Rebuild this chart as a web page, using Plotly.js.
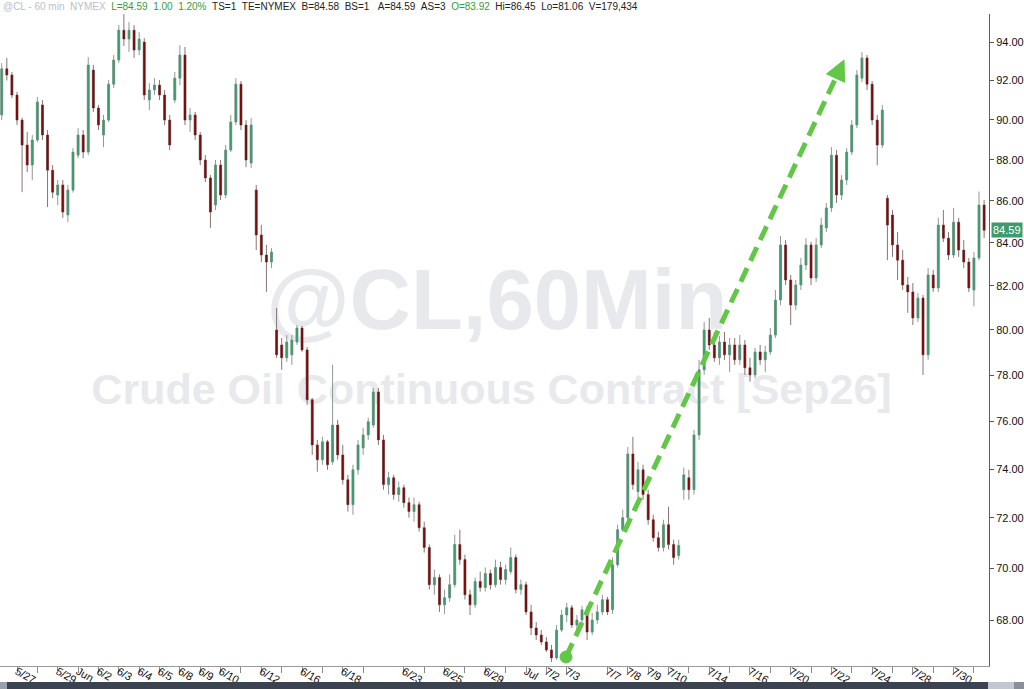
<!DOCTYPE html>
<html><head><meta charset="utf-8">
<script src="https://cdn.plot.ly/plotly-3.0.1.min.js"></script>
<style>html,body{margin:0;padding:0;background:#fff}#chart{width:1024px;height:689px}</style>
</head><body><div id="chart"></div><script>
// 60-minute bars of @CL, first bar index -3 (before 5/27 tick)
const openP=[
90.24,92.60,92.28,91.25,89.98,88.73,87.74,88.98,90.75,89.23,
87.49,86.28,86.77,85.32,86.52,88.23,89.23,88.38,92.54,90.59,
89.23,89.98,91.81,93.06,94.63,94.16,94.63,93.58,94.00,91.00,
91.51,91.76,91.25,89.98,91.00,92.12,93.32,89.98,90.24,89.23,
87.99,87.11,85.80,87.74,86.28,88.48,89.88,91.81,89.73,87.84,
86.52,84.37,83.43,83.10,80.00,79.33,78.76,78.89,79.46,80.09,
79.11,76.93,75.01,74.39,75.14,74.30,75.85,74.59,73.56,72.54,
73.97,74.88,75.43,75.85,77.27,75.22,73.36,73.64,72.95,73.23,
72.62,72.26,72.54,71.61,70.82,69.36,69.64,68.58,68.85,69.36,
70.94,70.34,68.97,68.58,69.48,69.25,69.79,69.36,70.03,69.56,
69.87,70.42,69.17,69.36,68.31,67.70,67.43,67.17,66.87,66.57,
67.62,68.19,68.47,67.81,68.00,68.39,67.54,68.00,68.31,68.78,
68.39,70.14,71.53,72.01,74.63,73.07,73.97,72.95,71.93,71.21,
70.82,71.73,70.94,70.50,73.15,73.64,73.15,75.43,78.23,80.00,
79.33,78.76,79.46,78.89,79.33,78.67,79.33,78.32,78.01,79.02,
78.67,79.02,79.77,81.35,83.90,82.27,81.12,82.04,82.96,83.90,
82.36,83.90,84.70,85.66,88.23,86.28,87.01,88.38,89.73,92.12,
93.17,91.81,89.98,88.73,86.13,85.32,83.90,83.19,82.04,81.72,
80.54,81.44,78.89,82.50,81.90,84.84,84.22,83.43,84.98,83.66,
83.10,81.81,83.29,85.80];
const highP=[
92.90,93.17,92.44,91.41,90.10,89.38,89.23,91.15,91.00,89.48,
87.74,87.01,87.01,86.77,88.58,89.58,89.48,93.21,92.80,90.75,
90.24,92.02,93.32,94.90,95.48,95.06,94.90,94.53,94.21,91.86,
92.12,92.02,91.51,90.24,92.44,93.84,93.74,90.59,90.39,89.38,
88.23,87.25,87.99,87.99,88.73,90.24,92.12,91.97,89.98,90.08,
86.77,84.85,83.90,83.75,80.99,79.64,79.77,79.77,80.22,80.18,
79.24,77.01,75.22,75.35,75.22,78.45,76.07,75.01,73.76,74.18,
75.22,75.73,76.16,77.44,77.44,75.43,73.89,73.76,73.48,73.36,
72.83,72.83,72.66,71.85,70.94,69.95,69.76,69.17,69.76,71.33,
71.53,70.54,69.17,69.64,69.87,70.03,69.95,70.34,70.26,70.14,
70.82,70.54,69.56,69.48,68.58,67.92,67.62,67.35,67.06,67.81,
68.39,68.66,68.58,68.19,68.54,68.54,68.27,68.58,68.97,68.89,
70.42,71.73,72.34,74.92,75.35,74.30,74.18,73.15,72.13,71.45,
71.93,72.46,71.13,71.13,74.06,73.97,75.64,78.67,80.36,80.54,
79.91,79.73,79.91,79.64,79.64,79.77,79.55,78.76,79.20,79.33,
79.29,80.09,81.81,84.32,84.13,82.50,82.27,83.29,84.22,84.04,
84.22,85.18,85.90,88.63,88.48,87.25,88.58,89.98,92.54,93.48,
93.32,91.97,90.24,90.75,86.28,85.56,84.51,83.66,82.41,82.13,
81.67,81.58,82.82,82.73,85.18,85.56,84.51,85.66,85.18,84.13,
83.29,83.57,86.45,86.04];
const lowP=[
89.98,92.00,91.10,89.74,86.42,87.40,87.01,88.88,88.98,85.70,
86.13,85.80,85.18,84.98,86.40,88.08,88.08,88.23,90.39,89.48,
88.63,89.88,91.61,92.91,93.79,93.48,93.17,93.32,91.00,90.49,
91.25,91.00,89.73,88.48,90.85,91.76,89.73,89.38,88.98,87.74,
86.91,84.70,85.56,86.04,86.13,88.38,89.73,89.48,87.64,87.59,
83.66,83.10,81.72,82.82,78.76,78.23,78.58,78.45,79.33,79.02,
76.71,74.59,73.89,74.18,73.97,74.18,74.39,73.36,72.26,72.13,
73.76,74.59,75.22,75.73,75.01,73.15,72.95,72.74,72.66,72.42,
72.01,71.85,71.45,70.62,69.17,68.97,68.31,68.23,68.70,69.25,
70.14,68.78,68.19,68.47,69.09,69.09,69.17,69.25,69.36,69.36,
69.76,69.02,68.97,68.19,67.43,67.24,67.06,66.79,66.42,66.50,
67.54,67.92,67.70,67.54,67.85,67.24,67.43,67.85,68.19,68.19,
68.23,70.03,71.45,71.85,73.15,72.83,72.74,71.73,71.05,70.66,
70.66,70.74,70.14,70.34,72.74,72.74,72.95,75.22,78.01,79.11,
78.58,78.45,78.67,78.14,78.45,78.45,78.01,77.71,77.88,78.45,
78.14,78.89,79.64,81.12,82.04,80.22,80.90,81.81,82.73,82.04,
82.18,83.75,84.51,85.46,85.90,86.04,86.77,88.23,89.58,91.91,
91.51,89.73,87.74,88.58,83.19,83.34,82.27,81.81,80.77,80.22,
80.36,78.01,78.67,81.72,81.72,84.04,83.19,83.29,83.34,82.82,
81.72,81.06,83.19,84.22];
const closeP=[
92.60,92.28,91.25,89.98,88.73,87.74,88.98,90.90,89.23,87.49,
86.42,86.77,85.46,86.52,88.38,89.23,88.38,92.80,90.59,89.73,
89.98,91.81,93.06,94.63,94.16,94.63,93.58,94.16,91.25,91.51,
91.76,91.25,89.98,88.73,92.12,93.32,89.98,90.24,89.23,87.99,
87.11,85.46,87.74,86.28,88.48,89.88,91.81,89.73,87.99,89.73,
84.37,83.43,83.10,83.57,78.89,78.76,79.46,79.55,80.09,79.11,
76.93,75.01,74.39,75.14,74.18,75.85,74.59,73.56,72.54,73.97,
75.01,75.43,75.99,77.27,75.22,73.36,73.64,72.95,73.23,72.62,
72.26,72.54,71.61,70.82,69.36,69.64,68.58,68.85,69.36,70.94,
70.34,68.97,68.58,69.48,69.25,69.79,69.36,70.03,69.56,69.95,
70.42,69.17,69.36,68.31,67.70,67.43,67.17,66.87,66.57,67.62,
68.19,68.47,67.81,68.00,68.39,67.54,68.00,68.31,68.78,68.31,
70.14,71.53,72.01,74.63,73.36,73.97,72.95,71.93,71.21,70.82,
71.73,70.94,70.42,70.90,73.76,73.15,75.43,78.23,80.00,79.33,
78.76,79.46,78.89,79.33,78.67,79.33,78.32,78.01,79.02,78.67,
79.02,79.77,81.35,83.90,82.27,81.12,82.04,82.96,83.90,82.36,
83.90,84.84,85.66,88.23,86.28,87.01,88.38,89.73,92.28,93.17,
91.81,89.98,88.73,90.49,84.84,83.90,83.19,82.04,81.72,80.54,
81.44,78.89,82.50,81.90,84.84,84.22,83.43,84.98,83.66,83.10,
81.90,83.29,85.80,84.59];

const firstBar=-3;
const barsPerDay=4;
const tickDays=[0,1,2,3,4,5,6,7,8,9,10,11,12,13,14,15,16,17,19,20,21,22,23,24,25,26,27,29,30,31,32,33,34,35,36,37,38,39,40,41,42,43,44,45,46,47];
const tickLabels=['5/27','','5/29','Jun','6/2','6/3','6/4','6/5','6/8','6/9','6/10','','6/12','','6/16','','6/18','',
'6/23','','6/25','','6/29','','Jul','7/2','7/3',
'7/7','7/8','7/9','7/10','','7/14','','7/16','','7/20','','7/22','','7/24','','7/28','','7/30',''];
const priceTicks=[68,70,72,74,76,78,80,82,84,86,88,90,92,94];
const lastPrice=84.59;
const watermarkLines=['@CL,60Min','Crude Oil Continuous Contract [Sep26]'];
const headerParts=[
 {t:'@CL - 60 min&nbsp;&nbsp;NYMEX',c:'#b9bec8'},
 {t:'L=84.59&nbsp;&nbsp;1.00&nbsp;&nbsp;1.20%',c:'#3a9a3a'},
 {t:'TS=1&nbsp;&nbsp;TE=NYMEX&nbsp;&nbsp;B=84.58&nbsp;&nbsp;BS=1&nbsp;&nbsp;&nbsp;A=84.59&nbsp;&nbsp;AS=3',c:'#222'},
 {t:'O=83.92',c:'#3a9a3a'},
 {t:'Hi=86.45&nbsp;&nbsp;Lo=81.06&nbsp;&nbsp;V=179,434',c:'#222'}
];

const xs=openP.map((_,i)=>firstBar+i);
const W=989, T=14, B=666, H=B-T;
const px=v=>v/W, py=v=>(B-v)/H;
const FONT='Arial, Liberation Sans, sans-serif';

const common={type:'candlestick',x:xs,open:openP,high:highP,low:lowP,close:closeP,xaxis:'x2',yaxis:'y2',hoverinfo:'skip',whiskerwidth:0};
const wicks=Object.assign({},common,{
  increasing:{line:{color:'#8f9a94',width:1},fillcolor:'#8f9a94'},
  decreasing:{line:{color:'#8a7474',width:1},fillcolor:'#8a7474'}});
const bodies=Object.assign({},common,{
  increasing:{line:{color:'rgba(0,0,0,0)',width:0},fillcolor:'#3e9b6d'},
  decreasing:{line:{color:'rgba(0,0,0,0)',width:0},fillcolor:'#7a0c0c'}});
const wm={type:'scatter',mode:'text',x:[0.5025,0.497],y:[0.55,0.419],text:watermarkLines,
  textposition:'middle center',hoverinfo:'skip',xaxis:'x',yaxis:'y',
  textfont:{family:FONT,size:[85,43],color:'#e8e9ed',weight:'bold'}};

const header=headerParts.map(p=>'<span style="color:'+p.c+'">'+p.t+'</span>').join('&nbsp;&nbsp;');

const green='#62c646';
const tip=[844,60], baseA=[844.6,82.3], baseB=[826.5,73.9];
const layout={
  width:1024,height:689,margin:{l:0,r:35,t:T,b:689-B},
  paper_bgcolor:'#fff',plot_bgcolor:'#fff',showlegend:false,boxmode:'overlay',boxgap:0.45,
  xaxis:{range:[0,1],visible:false,fixedrange:true},
  yaxis:{range:[0,1],visible:false,fixedrange:true},
  xaxis2:{overlaying:'x',anchor:'y2',side:'bottom',range:[-3.34,190.96],
    tickmode:'array',tickvals:tickDays.map(d=>d*barsPerDay),ticktext:tickLabels,
    ticks:'outside',ticklen:6,tickcolor:'#8a8a8a',tickwidth:1,ticklabelstandoff:-12,
    showline:true,linecolor:'#9a9a9a',linewidth:1,showgrid:false,zeroline:false,
    rangeslider:{visible:false},tickfont:{family:FONT,size:11,color:'#111'}},
  yaxis2:{overlaying:'y',anchor:'x2',side:'right',type:'log',range:[Math.log10(66.27),Math.log10(95.49)],
    tickmode:'array',tickvals:priceTicks,ticktext:priceTicks.map(v=>v.toFixed(2)),
    ticks:'outside',ticklen:4,tickcolor:'#555',showline:true,linecolor:'#5a6068',linewidth:1,
    showgrid:false,zeroline:false,tickfont:{family:FONT,size:11,color:'#111'}},
  annotations:[
    {xref:'paper',yref:'paper',x:0,y:1,xanchor:'left',yanchor:'bottom',xshift:1,showarrow:false,
     text:header,font:{family:FONT,size:10,color:'#222'}},
    {xref:'paper',yref:'y2',x:1,y:Math.log10(lastPrice),xanchor:'left',yanchor:'middle',xshift:2,showarrow:false,
     text:lastPrice.toFixed(2),bgcolor:'#3f9a6c',borderpad:1,font:{family:FONT,size:11,color:'#fff'}}
  ],
  shapes:[
    {type:'line',xref:'paper',yref:'paper',x0:px(566),y0:py(657),x1:px(835.6),y1:py(78.1),
     line:{color:green,width:5,dash:'15px,8px'}},
    {type:'path',xref:'paper',yref:'paper',
     path:'M '+px(tip[0])+' '+py(tip[1])+' L '+px(baseA[0])+' '+py(baseA[1])+' L '+px(baseB[0])+' '+py(baseB[1])+' Z',
     fillcolor:green,line:{color:green,width:1}},
    {type:'circle',xref:'paper',yref:'paper',x0:px(560),x1:px(572),y0:py(663),y1:py(651),fillcolor:green,line:{color:green,width:1}},
    {type:'rect',xref:'paper',yref:'paper',x0:0,x1:px(7),y0:py(689),y1:py(682),fillcolor:'#9aa0aa',line:{width:0}},
    {type:'rect',xref:'paper',yref:'paper',x0:px(7),x1:px(988),y0:py(689),y1:py(682),fillcolor:'#3b4350',line:{width:0}},
    {type:'rect',xref:'paper',yref:'paper',x0:px(988),x1:px(1014),y0:py(689),y1:py(682),fillcolor:'#c3c7cf',line:{width:0}},
    {type:'rect',xref:'paper',yref:'paper',x0:px(1014),x1:px(1024),y0:py(689),y1:py(682),fillcolor:'#8a909a',line:{width:0}}
  ]
};
Plotly.newPlot('chart',[wm,wicks,bodies],layout,{staticPlot:true,displayModeBar:false});
</script></body></html>
